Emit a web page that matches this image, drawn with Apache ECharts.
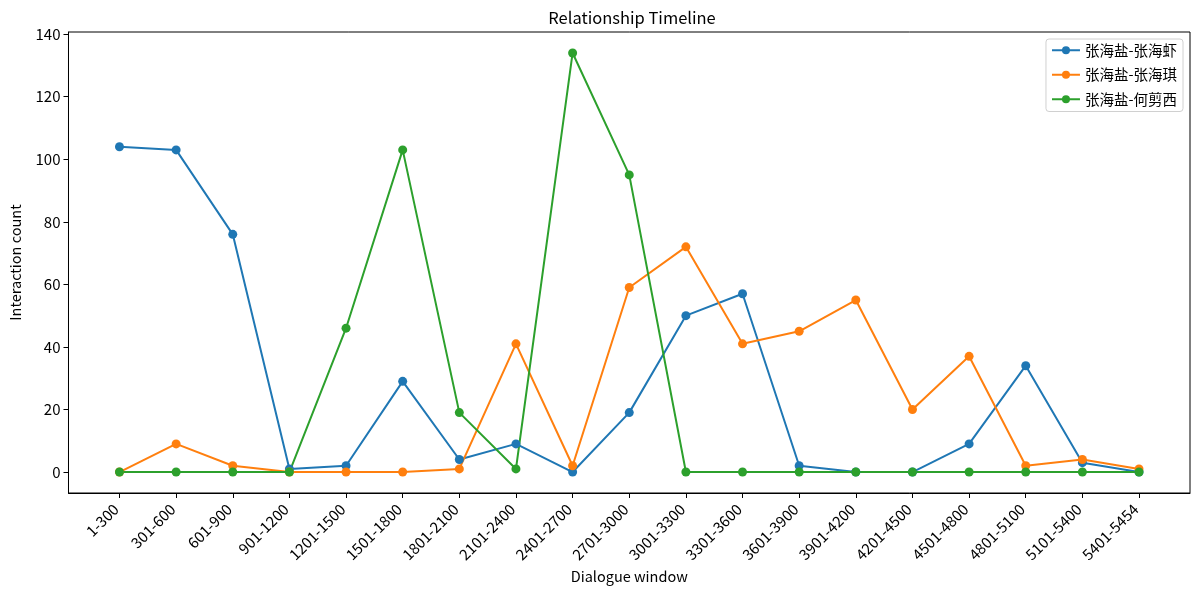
<!DOCTYPE html>
<html>
<head>
<meta charset="utf-8">
<script src="https://cdn.jsdelivr.net/npm/echarts@6/dist/echarts.min.js"></script>
<style>
  html, body { margin: 0; padding: 0; background: #fff; }
  #main { width: 1200px; height: 596px; }
</style>
</head>
<body>
<div id="main"></div>
<script>
// 对话窗口分段
const windows = [
    '1-300', '301-600', '601-900', '901-1200', '1201-1500', '1501-1800',
    '1801-2100', '2101-2400', '2401-2700', '2701-3000', '3001-3300', '3301-3600',
    '3601-3900', '3901-4200', '4201-4500', '4501-4800', '4801-5100', '5101-5400', '5401-5454'
];
const seriesNames = ['张海盐-张海虾', '张海盐-张海琪', '张海盐-何剪西'];
const pairXia = [104, 103, 76, 1, 2, 29, 4, 9, 0, 19, 50, 57, 2, 0, 0, 9, 34, 3, 0];
const pairQi  = [0, 9, 2, 0, 0, 0, 1, 41, 2, 59, 72, 41, 45, 55, 20, 37, 2, 4, 1];
const pairHe  = [0, 0, 0, 0, 46, 103, 19, 1, 134, 95, 0, 0, 0, 0, 0, 0, 0, 0, 0];
const yTicks = [0, 20, 40, 60, 80, 100, 120, 140];
const colors = ['#1f77b4', '#ff7f0e', '#2ca02c'];

const FONT = '"Noto Sans CJK SC", "Noto Sans", sans-serif';
const xIdx = windows.map((w, i) => i);

function toPoints(arr) {
    return arr.map((v, i) => [i, v]);
}

function lineSeries(name, arr, color) {
    return {
        name: name,
        type: 'line',
        data: toPoints(arr),
        symbol: 'circle',
        symbolSize: 9,
        showAllSymbol: true,
        lineStyle: { width: 2, color: color },
        itemStyle: { color: color },
        emphasis: { disabled: true }
    };
}

const chart = echarts.init(document.getElementById('main'), null, { renderer: 'canvas' });

const option = {
    animation: false,
    backgroundColor: '#fff',
    color: colors,
    textStyle: { fontFamily: FONT },
    title: {
        text: 'Relationship Timeline',
        left: 627,
        top: 4,
        textAlign: 'center',
        textStyle: { fontFamily: FONT, fontSize: 16.5, fontWeight: 'normal', color: '#000' }
    },
    legend: {
        orient: 'vertical',
        right: 17,
        top: 39,
        padding: [4, 6, 5, 5],
        itemGap: 10,
        itemWidth: 28,
        itemHeight: 10,
        backgroundColor: '#fff',
        borderColor: '#d0d0d0',
        borderWidth: 1,
        borderRadius: 3,
        textStyle: { fontFamily: FONT, fontSize: 14.5, color: '#000' },
        data: seriesNames
    },
    grid: {
        left: 65,
        right: 10,
        top: 32,
        bottom: 103,
        show: true,
        borderColor: '#000',
        borderWidth: 1,
        containLabel: false
    },
    xAxis: {
        type: 'value',
        min: -0.9,
        max: 18.9,
        name: 'Dialogue window',
        nameLocation: 'middle',
        nameGap: 76,
        nameTextStyle: { fontFamily: FONT, fontSize: 14.5, color: '#000' },
        axisLine: { show: true, onZero: false, lineStyle: { color: '#000', width: 1 } },
        axisTick: { show: true, length: 5, customValues: xIdx, lineStyle: { color: '#000' } },
        axisLabel: {
            customValues: xIdx,
            rotate: 45,
            margin: 10,
            padding: [0, 5, 0, 0],
            fontFamily: FONT,
            fontSize: 15,
            color: '#000',
            formatter: function (v) { return windows[Math.round(v)]; }
        },
        splitLine: { show: false }
    },
    yAxis: {
        type: 'value',
        min: -6.7,
        max: 140.7,
        name: 'Interaction count',
        nameLocation: 'middle',
        nameGap: 46,
        nameTextStyle: { fontFamily: FONT, fontSize: 14.5, color: '#000' },
        axisLine: { show: true, onZero: false, lineStyle: { color: '#000', width: 1 } },
        axisTick: { show: true, length: 5, customValues: yTicks, lineStyle: { color: '#000' } },
        axisLabel: {
            customValues: yTicks,
            margin: 8,
            fontFamily: FONT,
            fontSize: 15,
            color: '#000'
        },
        splitLine: { show: false }
    },
    series: [
        lineSeries(seriesNames[0], pairXia, colors[0]),
        lineSeries(seriesNames[1], pairQi, colors[1]),
        lineSeries(seriesNames[2], pairHe, colors[2])
    ]
};

chart.setOption(option);
</script>
</body>
</html>
